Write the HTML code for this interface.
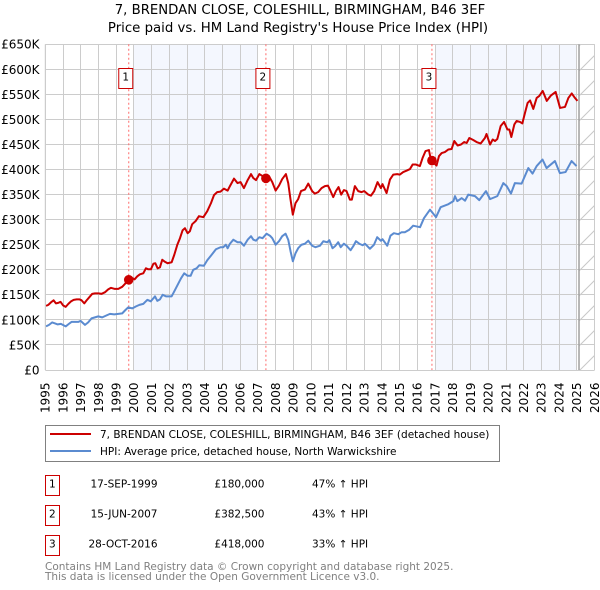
<!DOCTYPE html>
<html lang="en">
<head>
<meta charset="utf-8">
<title>7, Brendan Close price chart</title>
<style>
html,body{margin:0;padding:0;background:#fff;}
body{width:600px;height:590px;overflow:hidden;}
svg{display:block;font-family:"DejaVu Sans","Liberation Sans",sans-serif;}
</style>
</head>
<body>
<svg id="chart" xmlns="http://www.w3.org/2000/svg" width="600" height="590" viewBox="0 0 600 590">
  <defs>
    <pattern id="hatch" patternUnits="userSpaceOnUse" width="25" height="25">
      <path d="M-2 2 L2 -2 M0 25 L25 0 M23 27 L27 23" stroke="#c8c8c8" stroke-width="1" fill="none"/>
    </pattern>
  </defs>
  <text x="300" y="14" text-anchor="middle" font-size="13.25" fill="#000">7, BRENDAN CLOSE, COLESHILL, BIRMINGHAM, B46 3EF</text>
  <text x="298" y="32" text-anchor="middle" font-size="13.3" fill="#000">Price paid vs. HM Land Registry's House Price Index (HPI)</text>
  <g id="plot"></g>

  <g>
    <rect x="45.5" y="425.5" width="454" height="36" fill="#fff" stroke="#808080" stroke-width="1"/>
    <line x1="50" x2="91" y1="434" y2="434" stroke="#cc0000" stroke-width="2"/>
    <text x="100" y="438" font-size="10.5" fill="#000">7, BRENDAN CLOSE, COLESHILL, BIRMINGHAM, B46 3EF (detached house)</text>
    <line x1="50" x2="91" y1="451" y2="451" stroke="#5b8bd0" stroke-width="2"/>
    <text x="100" y="455" font-size="10.5" fill="#000">HPI: Average price, detached house, North Warwickshire</text>
  </g>

  <g font-size="10.5" fill="#000">
    <g>
      <rect x="45.5" y="475.5" width="14" height="20" fill="#fff" stroke="#cc0000"/>
      <text x="52.3" y="487.5" text-anchor="middle">1</text>
      <text x="157.5" y="487.5" text-anchor="end">17-SEP-1999</text>
      <text x="264.5" y="487.5" text-anchor="end">£180,000</text>
      <text x="312" y="487.5">47% ↑ HPI</text>
    </g>
    <g>
      <rect x="45.5" y="505.5" width="14" height="20" fill="#fff" stroke="#cc0000"/>
      <text x="52.3" y="517.5" text-anchor="middle">2</text>
      <text x="157.5" y="517.5" text-anchor="end">15-JUN-2007</text>
      <text x="264.5" y="517.5" text-anchor="end">£382,500</text>
      <text x="312" y="517.5">43% ↑ HPI</text>
    </g>
    <g>
      <rect x="45.5" y="535.5" width="14" height="20" fill="#fff" stroke="#cc0000"/>
      <text x="52.3" y="547.5" text-anchor="middle">3</text>
      <text x="157.5" y="547.5" text-anchor="end">28-OCT-2016</text>
      <text x="264.5" y="547.5" text-anchor="end">£418,000</text>
      <text x="312" y="547.5">33% ↑ HPI</text>
    </g>
  </g>

  <text x="45" y="570" font-size="10.5" fill="#808080">Contains HM Land Registry data © Crown copyright and database right 2025.</text>
  <text x="45" y="580" font-size="10.5" fill="#808080">This data is licensed under the Open Government Licence v3.0.</text>
</svg>
<script>
var yearTicks = [1995,1996,1997,1998,1999,2000,2001,2002,2003,2004,2005,2006,2007,2008,2009,2010,2011,2012,2013,2014,2015,2016,2017,2018,2019,2020,2021,2022,2023,2024,2025,2026];
var valueTicks = [0,50,100,150,200,250,300,350,400,450,500,550,600,650];
var valueTickLabels = ['£0','£50K','£100K','£150K','£200K','£250K','£300K','£350K','£400K','£450K','£500K','£550K','£600K','£650K'];
var shadedFrom = [2000,2017];
var shadedTo = [2007,2025];
var dataEnd = 2025.12;
var saleDates = [1999.71,2007.45,2016.82];
var salePrices = [180,382.5,418];
var saleLabels = ['1','2','3'];
var priceDates = [1995.04,1995.17,1995.32,1995.47,1995.6,1995.73,1995.86,1996,1996.15,1996.3,1996.45,1996.6,1996.77,1996.92,1997.05,1997.2,1997.33,1997.48,1997.65,1997.8,1998,1998.18,1998.36,1998.55,1998.7,1998.9,1999.12,1999.34,1999.5,1999.68,1999.78,1999.93,2000.04,2000.19,2000.34,2000.53,2000.68,2000.81,2000.96,2001.1,2001.21,2001.34,2001.47,2001.6,2001.75,2001.9,2002.13,2002.28,2002.45,2002.6,2002.75,2002.88,2003.03,2003.16,2003.29,2003.48,2003.67,2003.92,2004.14,2004.35,2004.52,2004.7,2004.89,2005.08,2005.29,2005.42,2005.65,2005.85,2006.02,2006.21,2006.42,2006.61,2006.74,2006.89,2007.08,2007.26,2007.41,2007.62,2007.81,2008,2008.19,2008.37,2008.58,2008.71,2008.84,2008.97,2009.12,2009.27,2009.43,2009.65,2009.84,2010.06,2010.21,2010.4,2010.59,2010.78,2010.95,2011.1,2011.25,2011.4,2011.55,2011.7,2011.85,2012,2012.19,2012.3,2012.47,2012.66,2012.85,2013,2013.23,2013.38,2013.56,2013.75,2013.94,2014.03,2014.26,2014.45,2014.64,2014.86,2015.01,2015.2,2015.4,2015.58,2015.73,2015.92,2016.14,2016.29,2016.46,2016.65,2016.76,2016.93,2017.08,2017.22,2017.37,2017.55,2017.74,2017.93,2018.08,2018.27,2018.46,2018.64,2018.78,2018.93,2019.15,2019.34,2019.57,2019.81,2019.9,2020.1,2020.25,2020.38,2020.51,2020.7,2020.89,2021.08,2021.19,2021.3,2021.47,2021.6,2021.79,2021.92,2022.07,2022.22,2022.36,2022.54,2022.73,2022.88,2023.07,2023.3,2023.54,2023.8,2024.05,2024.33,2024.52,2024.71,2024.89,2025.03];
var priceValues = [128,130,135,139,133,134,136,129,126,132,137,140,141,141,139,133,139,145,152,153,153,152,155,161,164,162,162,166,172,180,177,183,181,187,191,193,203,201,201,212,213,203,205,220,216,213,215,230,250,263,279,283,273,277,291,297,307,305,317,333,349,355,356,362,358,367,382,373,375,363,379,391,383,379,391,387,383,387,375,358,368,381,391,373,340,310,333,341,357,360,372,357,352,355,363,367,368,357,345,357,365,350,359,357,340,340,367,357,355,357,350,348,357,375,363,371,353,380,390,391,390,395,398,401,410,410,407,423,437,439,420,413,408,427,433,435,440,441,457,448,450,455,453,463,459,455,452,463,471,450,460,457,461,487,495,480,480,465,490,497,495,492,513,533,538,521,543,547,557,537,548,555,523,525,543,552,543,537];
var hpiDates = [1995.04,1995.21,1995.39,1995.55,1995.7,1995.88,1996.15,1996.33,1996.48,1996.67,1996.86,1996.99,1997.24,1997.42,1997.61,1997.8,1997.99,1998.21,1998.46,1998.65,1998.89,1999.12,1999.34,1999.53,1999.68,1999.91,2000.12,2000.31,2000.53,2000.76,2000.95,2001.19,2001.32,2001.47,2001.62,2001.81,2002.13,2002.28,2002.47,2002.66,2002.84,2003.03,2003.2,2003.35,2003.54,2003.69,2003.95,2004.14,2004.39,2004.63,2004.89,2005.04,2005.19,2005.29,2005.42,2005.61,2005.85,2006.02,2006.21,2006.42,2006.61,2006.74,2006.89,2007.08,2007.26,2007.49,2007.68,2007.81,2008,2008.19,2008.37,2008.56,2008.71,2008.84,2008.97,2009.12,2009.27,2009.46,2009.65,2009.84,2010.06,2010.25,2010.5,2010.69,2010.91,2011.03,2011.21,2011.35,2011.53,2011.67,2011.85,2012,2012.23,2012.38,2012.53,2012.72,2012.91,2013.04,2013.32,2013.55,2013.73,2013.94,2014.03,2014.3,2014.48,2014.67,2014.92,2015.11,2015.29,2015.54,2015.76,2016.15,2016.37,2016.71,2017.05,2017.31,2017.75,2018.03,2018.12,2018.25,2018.5,2018.69,2018.87,2019.25,2019.49,2019.87,2020.1,2020.51,2020.85,2021.04,2021.28,2021.5,2021.88,2022.26,2022.5,2022.73,2023.06,2023.29,2023.76,2024.04,2024.36,2024.7,2024.98];
var hpiValues = [87,90,95,93,91,92,87,92,96,96,96,98,90,95,103,105,107,105,109,112,111,112,113,120,125,123,127,130,132,140,137,147,138,141,150,147,147,157,170,183,193,188,188,200,203,209,208,219,230,241,245,245,250,243,252,260,255,255,248,260,267,260,258,265,263,272,268,263,250,257,267,272,260,237,217,233,243,250,252,258,248,245,248,257,255,259,243,247,255,245,252,248,239,247,257,252,249,252,242,250,265,258,261,248,268,273,271,275,275,280,288,285,303,320,305,325,331,337,347,337,343,338,350,347,339,357,341,347,373,367,352,373,372,403,392,407,420,403,417,393,395,417,407];

var NS = 'http://www.w3.org/2000/svg';
var plot = document.getElementById('plot');
var LEFT = 45.3, RIGHT = 594.6, TOP = 44.3, BOTTOM = 370;
var firstYear = 1995, lastYear = 2026, maxValue = 650;

function xScale(year) { return LEFT + (year - firstYear) / (lastYear - firstYear) * (RIGHT - LEFT); }
function yScale(value) { return BOTTOM - value / maxValue * (BOTTOM - TOP); }
function svgEl(tag, attrs) {
  var el = document.createElementNS(NS, tag);
  for (var k in attrs) el.setAttribute(k, attrs[k]);
  plot.appendChild(el);
  return el;
}
function linePath(dates, values) {
  return dates.map(function (d, i) {
    return (i ? 'L' : 'M') + xScale(d).toFixed(2) + ' ' + yScale(values[i]).toFixed(2);
  }).join(' ');
}

shadedFrom.forEach(function (from, i) {
  var band = svgEl('rect', {x: xScale(from), y: TOP, width: xScale(shadedTo[i]) - xScale(from), height: BOTTOM - TOP, fill: '#f4f7fe'});
  
  
});

var hatchRect = svgEl('rect', {x: xScale(dataEnd), y: TOP, width: RIGHT - xScale(dataEnd), height: BOTTOM - TOP, fill: 'url(#hatch)'});



valueTicks.forEach(function (v, i) {
  var y = Math.round(yScale(v) - 0.5) + 0.5;
  var grid = svgEl('line', {x1: LEFT, x2: RIGHT, y1: y, y2: y, stroke: '#cccccc', 'stroke-width': 1});
  
  
  var label = svgEl('text', {x: 39.5, y: yScale(v) + 4.4, 'text-anchor': 'end', 'font-size': 12, fill: '#000'});
  label.textContent = valueTickLabels[i];
  
  
});

yearTicks.forEach(function (yr) {
  var x = Math.round(xScale(yr) - 0.5) + 0.5;
  var grid = svgEl('line', {x1: x, x2: x, y1: TOP, y2: BOTTOM, stroke: '#cccccc', 'stroke-width': 1});
  
  
  var lx = xScale(yr) + 4.3;
  var label = svgEl('text', {x: lx, y: 382.5, 'text-anchor': 'end', 'font-size': 12, fill: '#000', transform: 'rotate(-90 ' + lx + ' 382.5)'});
  label.textContent = String(yr);
  
  
});

var endLine = svgEl('line', {x1: xScale(dataEnd), x2: xScale(dataEnd), y1: TOP, y2: BOTTOM, stroke: '#a0a0a0', 'stroke-width': 1.5});



saleDates.forEach(function (d) {
  var x = xScale(d);
  var dash = svgEl('line', {x1: x, x2: x, y1: TOP, y2: BOTTOM, stroke: '#ff6a6a', 'stroke-width': 1, 'stroke-dasharray': '2 2.5'});
  
  
});

var hpiLine = svgEl('path', {d: linePath(hpiDates, hpiValues), fill: 'none', stroke: '#5b8bd0', 'stroke-width': 2, 'stroke-linejoin': 'round'});



var priceLine = svgEl('path', {d: linePath(priceDates, priceValues), fill: 'none', stroke: '#cc0000', 'stroke-width': 2, 'stroke-linejoin': 'round'});



saleDates.forEach(function (d, i) {
  var dot = svgEl('circle', {cx: xScale(d), cy: yScale(salePrices[i]), r: 4.8, fill: '#cc0000'});
  
  
  var box = svgEl('rect', {x: xScale(d) - 10, y: 68.5, width: 14, height: 20, fill: '#fff', stroke: '#cc0000', 'stroke-width': 1});
  
  
  var num = svgEl('text', {x: xScale(d) - 3, y: 80.5, 'text-anchor': 'middle', 'font-size': 10.5, fill: '#000'});
  num.textContent = saleLabels[i];
  
  
});

var frameLeft = svgEl('line', {x1: LEFT, x2: LEFT, y1: TOP, y2: BOTTOM, stroke: '#cccccc', 'stroke-width': 1});


</script>
</body>
</html>
